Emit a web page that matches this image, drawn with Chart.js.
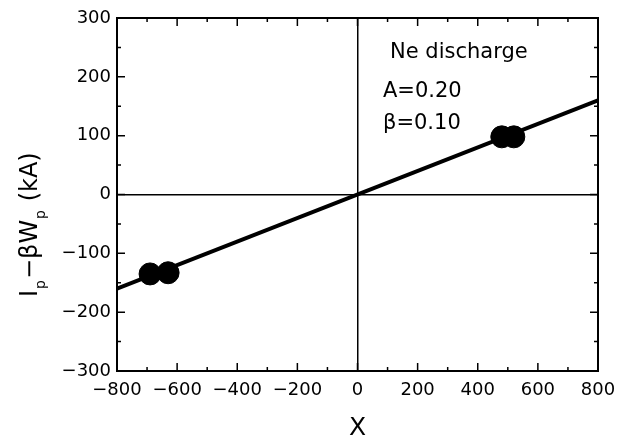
<!DOCTYPE html>
<html>
<head>
<meta charset="utf-8">
<script src="https://cdn.jsdelivr.net/npm/chart.js@4"></script>
<style>
  html, body { margin: 0; padding: 0; background: #fff; }
  #wrap { width: 630px; height: 441px; }
</style>
</head>
<body>
<div id="wrap"><canvas id="chart"></canvas></div>
<script>
// measured points (X, Ip - beta*Wp in kA)
const pointX = [-690, -630, 480, 520];
const pointY = [-135, -133, 98, 98];
// fitted line end points
const lineX = [-800, 800];
const lineY = [-160, 160];
const xTicks = [-800, -600, -400, -200, 0, 200, 400, 600, 800];
const yTicks = [-300, -200, -100, 0, 100, 200, 300];
const notes = ['Ne discharge', 'A=0.20', 'β=0.10'];

const FONT = '"DejaVu Sans", sans-serif';

// inward ticks on all 4 sides + axis titles + annotation
const decor = {
  id: 'decor',
  afterDraw(chart) {
    const { ctx, chartArea: a, scales: { x, y } } = chart;
    ctx.save();
    ctx.strokeStyle = '#000';
    ctx.lineWidth = 1.5;
    for (let v = -800; v <= 800; v += 100) {
      const px = x.getPixelForValue(v);
      const len = v % 200 === 0 ? 8 : 4;
      ctx.beginPath();
      ctx.moveTo(px, a.bottom); ctx.lineTo(px, a.bottom - len);
      ctx.moveTo(px, a.top); ctx.lineTo(px, a.top + len);
      ctx.stroke();
    }
    for (let v = -300; v <= 300; v += 50) {
      const py = y.getPixelForValue(v);
      const len = v % 100 === 0 ? 8 : 4;
      ctx.beginPath();
      ctx.moveTo(a.left, py); ctx.lineTo(a.left + len, py);
      ctx.moveTo(a.right, py); ctx.lineTo(a.right - len, py);
      ctx.stroke();
    }
    ctx.lineWidth = 2;
    ctx.strokeRect(a.left, a.top, a.right - a.left, a.bottom - a.top);

    ctx.fillStyle = '#000';
    // x title
    ctx.font = '25px ' + FONT;
    ctx.textAlign = 'center';
    ctx.textBaseline = 'alphabetic';
    ctx.fillText('X', (a.left + a.right) / 2, 435);

    // y title with subscripts
    ctx.translate(37, 297);
    ctx.rotate(-Math.PI / 2);
    ctx.textAlign = 'left';
    const big = '24px ' + FONT, small = '14px ' + FONT;
    const parts = [['I', big, 0], ['p', small, 8], ['−βW', big, 0], ['p', small, 8], [' (kA)', big, 0]];
    let cx = 0;
    for (const [t, f, dy] of parts) {
      ctx.font = f;
      ctx.fillText(t, cx, dy);
      cx += ctx.measureText(t).width + 1;
    }
    ctx.restore();

    // annotation
    ctx.save();
    ctx.fillStyle = '#000';
    ctx.font = '21px ' + FONT;
    ctx.fillText(notes[0], 390, 58);
    ctx.fillText(notes[1], 383, 97);
    ctx.fillText(notes[2], 383, 129);
    ctx.restore();
  }
};

const lineData = lineX.map((v, i) => ({ x: v, y: lineY[i] }));
const pointData = pointX.map((v, i) => ({ x: v, y: pointY[i] }));

new Chart(document.getElementById('chart'), {
  type: 'scatter',
  data: {
    datasets: [
      {
        data: lineData,
        showLine: true,
        borderColor: '#000',
        borderWidth: 4,
        pointRadius: 0
      },
      {
        data: pointData,
        pointRadius: 11,
        backgroundColor: '#000',
        borderColor: '#000'
      }
    ]
  },
  options: {
    responsive: true,
    maintainAspectRatio: false,
    animation: false,
    layout: { padding: { left: 0, right: 32, top: 18, bottom: 0 } },
    plugins: { legend: { display: false }, tooltip: { enabled: false } },
    scales: {
      x: {
        type: 'linear', min: -800, max: 800,
        afterBuildTicks: s => { s.ticks = xTicks.map(v => ({ value: v })); },
        afterFit: s => { s.height = 70; },
        border: { display: false },
        grid: {
          drawTicks: false,
          color: c => c.tick && c.tick.value === 0 ? '#000' : 'rgba(0,0,0,0)',
          lineWidth: 1.5
        },
        ticks: {
          padding: 9, color: '#000', maxRotation: 0,
          font: { family: FONT, size: 18 },
          callback: v => String(v).replace('-', '−')
        }
      },
      y: {
        type: 'linear', min: -300, max: 300,
        afterBuildTicks: s => { s.ticks = yTicks.map(v => ({ value: v })); },
        afterFit: s => { s.width = 117; },
        border: { display: false },
        grid: {
          drawTicks: false,
          color: c => c.tick && c.tick.value === 0 ? '#000' : 'rgba(0,0,0,0)',
          lineWidth: 1.5
        },
        ticks: {
          padding: 6, color: '#000',
          font: { family: FONT, size: 18 },
          callback: v => String(v).replace('-', '−')
        }
      }
    }
  },
  plugins: [decor]
});
</script>
</body>
</html>
